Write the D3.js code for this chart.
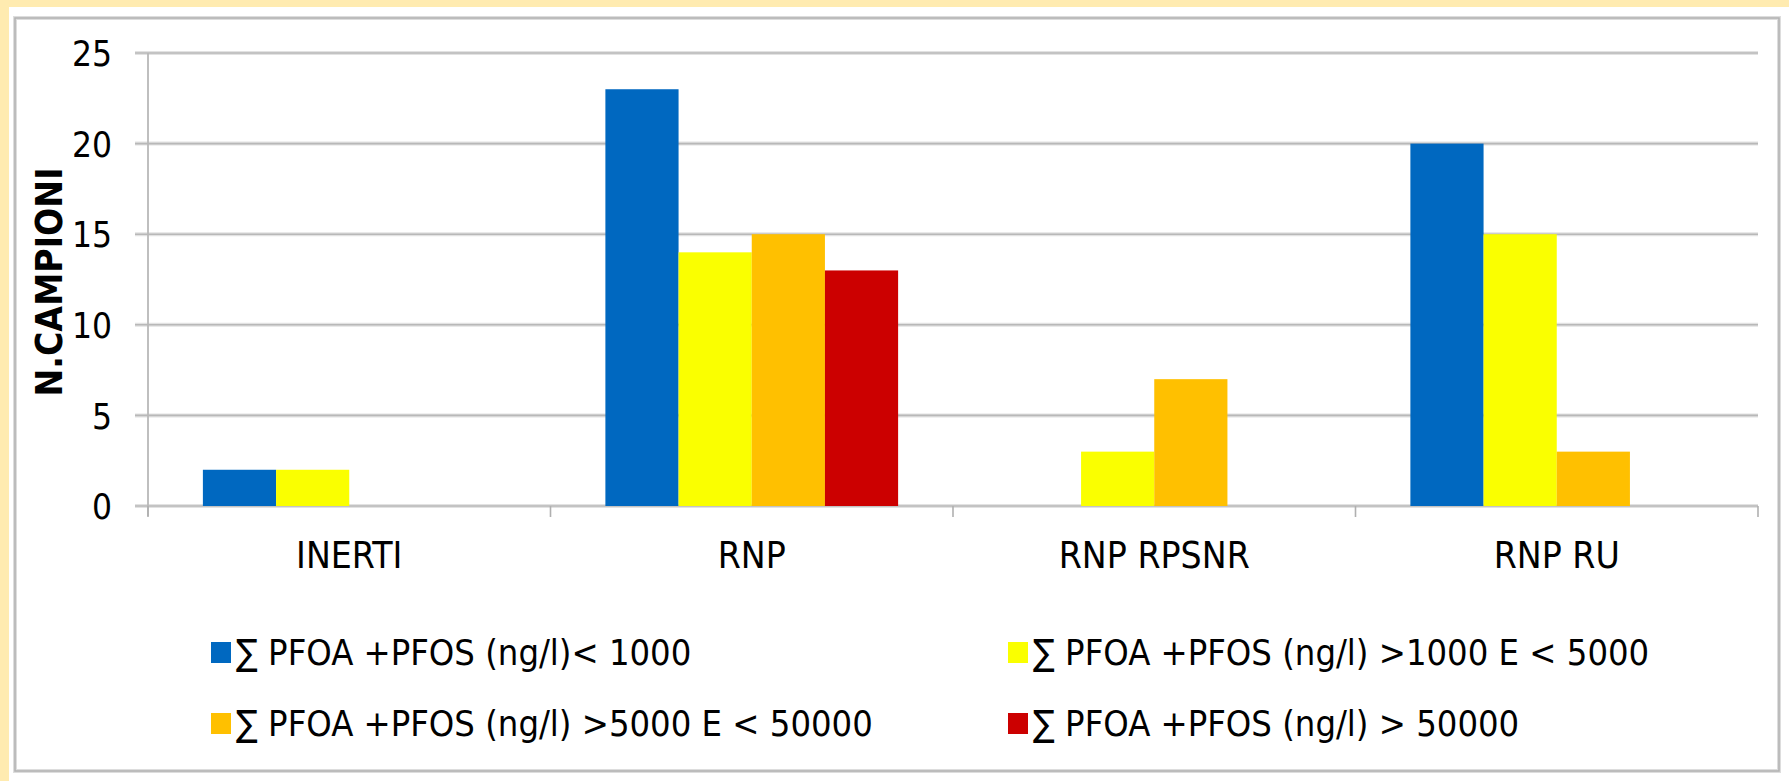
<!DOCTYPE html>
<html>
<head>
<meta charset="utf-8">
<script src="https://cdn.jsdelivr.net/npm/d3@7/dist/d3.min.js"></script>
<style>
  html, body { margin: 0; padding: 0; background: #FFEBB0; }
  svg { display: block; }
  text { font-family: "DejaVu Sans Condensed", "DejaVu Sans", sans-serif; fill: #000; }
</style>
</head>
<body>
<script>
const categories = ["INERTI", "RNP", "RNP RPSNR", "RNP RU"];
const seriesNames = [
  "∑ PFOA +PFOS (ng/l)< 1000",
  "∑ PFOA +PFOS (ng/l) >1000 E < 5000",
  "∑ PFOA +PFOS (ng/l) >5000 E < 50000",
  "∑ PFOA +PFOS (ng/l) > 50000"
];
const seriesLt1000 = [2, 23, 0, 20];
const series1000to5000 = [2, 14, 3, 15];
const series5000to50000 = [0, 15, 7, 3];
const seriesGt50000 = [0, 13, 0, 0];
const yTicks = [0, 5, 10, 15, 20, 25];
const colors = ["#0068C0", "#FAFF00", "#FFC000", "#CC0000"];
const yTitle = "N.CAMPIONI";

const allSeries = [seriesLt1000, series1000to5000, series5000to50000, seriesGt50000];
const W = 1789, H = 781;
const svg = d3.select("body").append("svg").attr("width", W).attr("height", H);

// background
svg.append("rect").attr("x", 0).attr("y", 0).attr("width", W).attr("height", H).attr("fill", "#FFEBB0");
svg.append("rect").attr("x", 9).attr("y", 7).attr("width", W - 9).attr("height", H - 7).attr("fill", "#fff");
svg.append("rect").attr("x", 15).attr("y", 18).attr("width", 1764).attr("height", 753)
  .attr("fill", "none").attr("stroke", "#DDDDDD").attr("stroke-width", 4);
svg.append("rect").attr("x", 15).attr("y", 18).attr("width", 1764).attr("height", 753)
  .attr("fill", "none").attr("stroke", "#B4B4B4").attr("stroke-width", 1.6);

const left = 148, right = 1758, y0 = 506, yTop = 53;
const x0 = d3.scaleBand().domain(categories).range([left, right]).paddingInner(0).paddingOuter(0);
const x1 = d3.scaleBand().domain(d3.range(seriesNames.length)).range([0, x0.bandwidth()])
  .paddingInner(0).paddingOuter(0.75);
const y = d3.scaleLinear().domain([0, 25]).range([y0, yTop]);

// gridlines
const grid = svg.append("g");
yTicks.forEach(t => {
  grid.append("line").attr("x1", 135).attr("x2", right).attr("y1", y(t)).attr("y2", y(t))
    .attr("stroke", "#E2E2E2").attr("stroke-width", 4);
  grid.append("line").attr("x1", 135).attr("x2", right).attr("y1", y(t)).attr("y2", y(t))
    .attr("stroke", "#B8B8B8").attr("stroke-width", 1.6);
});

// y axis
const yAxis = d3.axisLeft(y).tickValues(yTicks).tickSize(0).tickPadding(0).tickFormat(d3.format("d"));
const gy = svg.append("g").attr("transform", `translate(112,0)`).call(yAxis);
gy.select(".domain").remove();
gy.selectAll("text").attr("font-size", 35).attr("fill", "#000").attr("dy", "0.36em")
  .attr("font-family", "'DejaVu Sans Condensed','DejaVu Sans',sans-serif");

svg.append("line").attr("x1", left).attr("x2", left).attr("y1", yTop).attr("y2", y0 + 10)
  .attr("stroke", "#B8B8B8").attr("stroke-width", 1.8);

// x axis ticks at band boundaries
const bounds = categories.map(c => x0(c)).concat([right]);
bounds.forEach(b => {
  svg.append("line").attr("x1", b).attr("x2", b).attr("y1", y0).attr("y2", y0 + 11)
    .attr("stroke", "#B0B0B0").attr("stroke-width", 1.6);
});

// bars
const groups = svg.append("g").selectAll("g").data(categories).join("g")
  .attr("transform", c => `translate(${x0(c)},0)`);
groups.selectAll("rect")
  .data((c, ci) => allSeries.map((s, si) => ({ si, v: s[ci] })).filter(d => d.v > 0))
  .join("rect")
  .attr("x", d => x1(d.si))
  .attr("width", x1.bandwidth())
  .attr("y", d => y(d.v))
  .attr("height", d => y0 - y(d.v))
  .attr("fill", d => colors[d.si]);

// x axis category labels
const xAxis = d3.axisBottom(x0).tickSize(0).tickPadding(0);
const gx = svg.append("g").attr("transform", `translate(0,${y0})`).call(xAxis);
gx.select(".domain").remove();
gx.selectAll("text").attr("font-size", 37).attr("fill", "#000").attr("y", 62).attr("dy", 0)
  .attr("font-family", "'DejaVu Sans Condensed','DejaVu Sans',sans-serif");

// y title
svg.append("text").attr("transform", "translate(62,282) rotate(-90)")
  .attr("text-anchor", "middle").attr("font-size", 37).attr("font-weight", "bold").text(yTitle);

// legend
const legPos = [[211, 652], [1008, 652], [211, 723], [1008, 723]];
const leg = svg.append("g");
seriesNames.forEach((n, i) => {
  const [lx, ly] = legPos[i];
  leg.append("rect").attr("x", lx).attr("y", ly - 10).attr("width", 20).attr("height", 21).attr("fill", colors[i]);
  leg.append("text").attr("x", lx + 25).attr("y", ly).attr("dy", "0.36em").attr("font-size", 36).text(n);
});
</script>
</body>
</html>
